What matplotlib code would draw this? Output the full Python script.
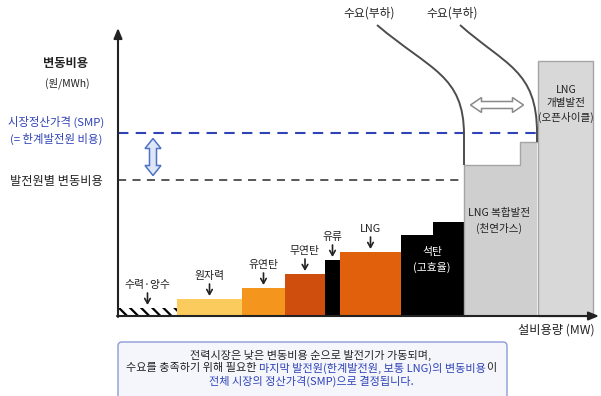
import matplotlib
matplotlib.use("Agg")
import matplotlib.pyplot as plt
from matplotlib.patches import FancyBboxPatch, PathPatch, Polygon
from matplotlib.path import Path
import numpy as np

plt.rcParams["font.family"] = ["Noto Sans CJK KR", "DejaVu Sans"]
plt.rcParams["hatch.linewidth"] = 1.6

# ── merit-order data (schematic units) ───────────────────
SOURCES = ["수력·양수", "원자력", "유연탄", "무연탄", "유류", "LNG",
           "석탄", "석탄", "LNG 복합발전", "LNG 복합발전", "LNG 개별발전"]
CAPACITY = [59, 65, 43, 40, 15, 61, 32, 31, 56, 17, 56]
COST = [8, 17, 28, 42, 56, 64, 81, 94, 151, 174, 255]

SMP_COST = 183        # 시장정산가격
PLANT_COST = 136      # 발전원별 변동비용

# demand curves as cubic bezier control points + end of the vertical drop
DEMAND_1 = [(259, 291), (312, 246), (346, 241), (346, 181), (346, 151)]
DEMAND_2 = [(342, 291), (387, 251), (419, 246), (419, 183), (419, 174)]

ARROW_LABELS = ["수력·양수", "원자력", "유연탄", "무연탄", "유류", "LNG"]

COLORS = ["white", "#FBCB5E", "#F4951D", "#CF4E0E", "black", "#E0600C",
          "black", "black", "#CFCFCF", "#CFCFCF", "#D8D8D8"]

BLUE = "#2F42B8"
DARK = "#222222"

fig = plt.figure(figsize=(6.01, 3.96), dpi=100)
ax = fig.add_axes([0, 0, 1, 1])
ax.set_xlim(-118, 483)
ax.set_ylim(-80, 316)
ax.axis("off")

lefts = np.concatenate([[0], np.cumsum(CAPACITY)[:-1]])

# ── bars ─────────────────────────────────────────────────
for i, (x, w, h, c) in enumerate(zip(lefts, CAPACITY, COST, COLORS)):
    if i == 0:
        ax.bar(x, h, w, align="edge", color="white", edgecolor="black",
               linewidth=0, hatch="\\\\\\", zorder=2)
    elif i == len(COST) - 1:
        ax.bar(x + 1, h, w - 1, align="edge", color=c, edgecolor="#A5A5A5",
               linewidth=1.0, zorder=2)
    else:
        ax.bar(x, h, w, align="edge", color=c, linewidth=0, zorder=2)

# outline of the combined-cycle block
cc = [i for i, s in enumerate(SOURCES) if s == "LNG 복합발전"]
cx = [lefts[cc[0]], lefts[cc[0]], lefts[cc[1]], lefts[cc[1]], lefts[cc[1]] + CAPACITY[cc[1]]]
cy = [0, COST[cc[0]], COST[cc[0]], COST[cc[1]], COST[cc[1]]]
ax.plot(cx, cy, color="#A5A5A5", lw=1.0, zorder=3)

# ── cost lines ───────────────────────────────────────────
ax.plot([0, lefts[cc[1]] + CAPACITY[cc[1]]], [SMP_COST, SMP_COST], color=BLUE,
        lw=1.5, dashes=(5, 3.5), zorder=3)
ax.plot([0, lefts[cc[0]]], [PLANT_COST, PLANT_COST], color="#4A4A4A",
        lw=1.3, dashes=(4.5, 3.5), zorder=3)

# ── demand curves ────────────────────────────────────────
for pts in (DEMAND_1, DEMAND_2):
    codes = [Path.MOVETO, Path.CURVE4, Path.CURVE4, Path.CURVE4, Path.LINETO]
    ax.add_patch(PathPatch(Path(pts, codes), fill=False, ec="#4D4D4D",
                           lw=1.4, zorder=4, clip_on=False))
    ax.text(pts[0][0] - 8, 303, "수요(부하)", ha="center", va="center",
            fontsize=8.5, color=DARK)

# ── axes arrows ──────────────────────────────────────────
ax.annotate("", xy=(0, 288), xytext=(0, -1),
            arrowprops=dict(arrowstyle="-|>,head_length=0.6,head_width=0.25",
                            color=DARK, lw=1.5, shrinkA=0, shrinkB=0), zorder=5)
ax.annotate("", xy=(481, 0), xytext=(-1, 0),
            arrowprops=dict(arrowstyle="-|>,head_length=0.6,head_width=0.25",
                            color=DARK, lw=1.5, shrinkA=0, shrinkB=0), zorder=5)
ax.text(438, -14, "설비용량 (MW)", ha="center", va="center", fontsize=8.8, color=DARK)

# ── labels with down arrows ──────────────────────────────
for name in ARROW_LABELS:
    i = SOURCES.index(name)
    xc = lefts[i] + CAPACITY[i] / 2
    top = COST[i]
    ax.text(xc, top + 23, name, ha="center", va="center", fontsize=7.8, color=DARK)
    ax.annotate("", xy=(xc, top + 3), xytext=(xc, top + 15),
                arrowprops=dict(arrowstyle="->,head_length=0.35,head_width=0.2",
                                color=DARK, lw=1.2, shrinkA=0, shrinkB=0))

# labels inside blocks
i = SOURCES.index("석탄")
ax.text(lefts[i] + 31, 56, "석탄\n(고효율)", ha="center", va="center",
        fontsize=7.8, color="white", linespacing=1.5)
i = SOURCES.index("LNG 복합발전")
ax.text(lefts[i] + 35, 95, "LNG 복합발전\n(천연가스)", ha="center", va="center",
        fontsize=7.6, color=DARK, linespacing=1.5)
i = SOURCES.index("LNG 개별발전")
ax.text(lefts[i] + 29, 212, "LNG\n개별발전\n(오픈사이클)", ha="center", va="center",
        fontsize=7.6, color=DARK, linespacing=1.4)

# ── y-axis side labels ───────────────────────────────────
ax.text(-53, 252, "변동비용", ha="center", va="center", fontsize=8.8,
        weight="bold", color=DARK)
ax.text(-51, 233, "(원/MWh)", ha="center", va="center", fontsize=7.5, color=DARK)
ax.text(-62, 186, "시장정산가격 (SMP)\n(= 한계발전원 비용)", ha="center",
        va="center", fontsize=8.2, color=BLUE, linespacing=1.5)
ax.text(-62, 134, "발전원별 변동비용", ha="center", va="center", fontsize=8.8,
        color=DARK)


# ── double arrows ────────────────────────────────────────
def double_arrow(cx, cy, length, body, head, head_len, vertical=False, **kw):
    L, b, h, k = length / 2, body / 2, head / 2, head_len
    pts = [(-L, 0), (-L + k, h), (-L + k, b), (L - k, b), (L - k, h),
           (L, 0), (L - k, -h), (L - k, -b), (-L + k, -b), (-L + k, -h)]
    if vertical:
        pts = [(cx + y, cy + x) for x, y in pts]
    else:
        pts = [(cx + x, cy + y) for x, y in pts]
    ax.add_patch(Polygon(pts, closed=True, zorder=4, **kw))


double_arrow(35, 159, 37, 7, 16, 10, vertical=True,
             fc="#DDE7F7", ec="#4F72C4", lw=1.1)
double_arrow(379, 211, 53, 7, 15, 11, fc="white", ec="#8A8A8A", lw=1.1)

# ── explanation box ──────────────────────────────────────
ax.add_patch(FancyBboxPatch((0, -100), 389, 74,
                            boxstyle="round,pad=0,rounding_size=4",
                            fc="#F4F6FC", ec="#8C9BD6", lw=1.0, clip_on=False))

fs = 8
ax.text(193, -39, "전력시장은 낮은 변동비용 순으로 발전기가 가동되며,",
        ha="center", va="center", fontsize=fs, color=DARK)
ax.text(193, -65, "전체 시장의 정산가격(SMP)으로 결정됩니다.",
        ha="center", va="center", fontsize=fs, color=BLUE)

# middle line mixes black and blue runs
parts = [("수요를 충족하기 위해 필요한 ", DARK),
         ("마지막 발전원(한계발전원, 보통 LNG)의 변동비용", BLUE),
         ("이", DARK)]
fig.canvas.draw()
renderer = fig.canvas.get_renderer()


def text_width(s):
    t = ax.text(0, 0, s, fontsize=fs)
    w = t.get_window_extent(renderer).width
    t.remove()
    return w


full = "".join(p for p, _ in parts)
total = text_width(full)
x0 = 193 - total / 2
prefix = ""
for s, c in parts:
    offset = text_width(prefix + s) - text_width(s) if prefix else 0
    ax.text(x0 + offset, -52, s, ha="left", va="center", fontsize=fs, color=c)
    prefix += s

fig.savefig("out.png", dpi=100)
